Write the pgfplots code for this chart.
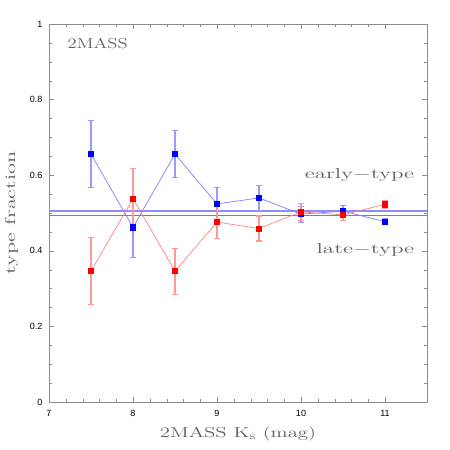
\documentclass[border=0pt]{standalone}
\usepackage{fontspec}
\setsansfont{Liberation Sans}
\usepackage{graphicx}
\usepackage{pgfplots}
\pgfplotsset{compat=1.18}

\definecolor{txtgray}{RGB}{95,95,95}
\newcommand{\lbl}[2][1.2]{\scalebox{#1}[1]{\addfontfeature{LetterSpace=12}#2}}

\begin{document}
\begin{tikzpicture}
\begin{axis}[
  at={(49pt,48pt)}, anchor=south west,
  scale only axis, width=378pt, height=378pt,
  xmin=7, xmax=11.5, ymin=0, ymax=1,
  xtick={7,8,9,10,11}, ytick={0,0.2,0.4,0.6,0.8,1},
  minor x tick num=4, minor y tick num=3,
  major tick length=5pt, minor tick length=3pt,
  tick align=inside,
  axis line style={black!45},
  tick style={black!45},
  tick label style={font=\sffamily\small, black},
  xticklabel style={yshift=-5pt},
  yticklabel style={xshift=-3pt, /pgf/number format/fixed},
  /pgf/number format/assume math mode=true,
  xlabel={\lbl[1.45]{2MASS K\textsubscript{s} (mag)}},
  ylabel={\lbl[1.55]{type fraction}},
  label style={font=\Large, txtgray},
  xlabel style={yshift=-3pt},
  ylabel style={yshift=5pt},
  clip=false,
]
% reference lines
\addplot[draw=blue!45, line width=1.6pt, no markers, forget plot]
  table {
x    y
7.0  0.505
11.5 0.505
};
\addplot[draw=red!70, line width=1.1pt, no markers, forget plot]
  table {
x    y
7.0  0.494
11.5 0.494
};

% early-type (blue)
\addplot[blue!50, line width=0.7pt, mark=square*, mark size=2.6pt,
  mark options={draw=blue, fill=blue},
  error bars/.cd, y dir=both, y explicit,
  error bar style={blue!40, line width=1.1pt},
  error mark options={blue!40, line width=1.1pt, mark size=3pt, rotate=90}]
  table[x=x, y=y, y error=e] {
x    y     e
7.5  0.656 0.088
8.0  0.462 0.079
8.5  0.656 0.062
9.0  0.524 0.044
9.5  0.540 0.033
10.0 0.497 0.021
10.5 0.505 0.015
11.0 0.477 0.008
};

% late-type (red)
\addplot[red!50, line width=0.7pt, mark=square*, mark size=2.6pt,
  mark options={draw=red, fill=red},
  error bars/.cd, y dir=both, y explicit,
  error bar style={red!40, line width=1.1pt},
  error mark options={red!40, line width=1.1pt, mark size=3pt, rotate=90}]
  table[x=x, y=y, y error=e] {
x    y     e
7.5  0.346 0.088
8.0  0.538 0.080
8.5  0.346 0.061
9.0  0.476 0.044
9.5  0.459 0.033
10.0 0.503 0.022
10.5 0.495 0.015
11.0 0.523 0.010
};

\node[anchor=east, font=\Large, txtgray] at (axis cs:11.39,0.601) {\lbl[1.6]{early$-$type}};
\node[anchor=east, font=\Large, txtgray] at (axis cs:11.39,0.402) {\lbl[1.6]{late$-$type}};
\node[font=\Large, txtgray] at (axis cs:7.58,0.948) {\lbl[1.3]{2MASS}};
\end{axis}
\pgfresetboundingbox
\path[use as bounding box] (0,0) rectangle (450pt,450pt);
\end{tikzpicture}
\end{document}
